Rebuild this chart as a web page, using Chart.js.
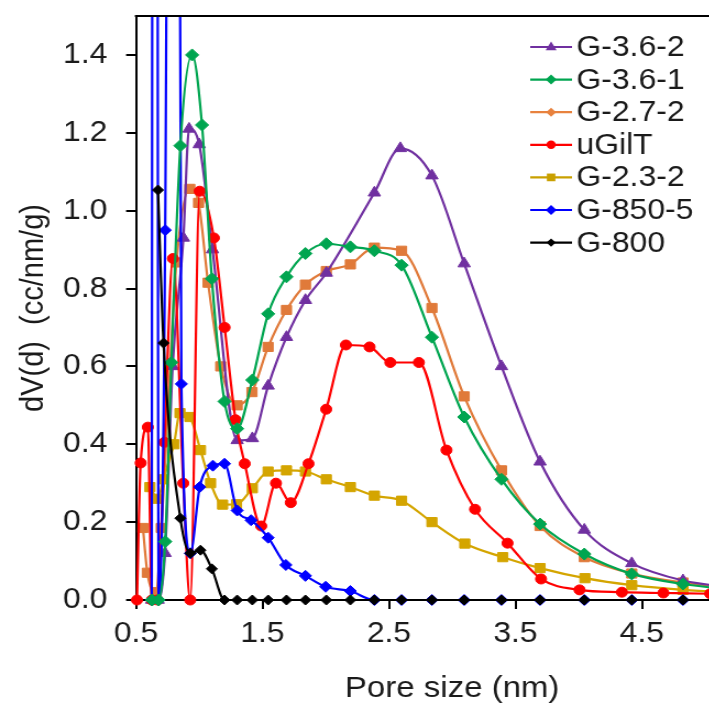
<!DOCTYPE html>
<html><head><meta charset="utf-8">
<script src="https://cdn.jsdelivr.net/npm/chart.js@4.4.1/dist/chart.umd.min.js"></script>
<style>
html,body{margin:0;padding:0;background:#fff;overflow:hidden;width:709px;height:707px;}
#wrap{position:absolute;left:0;top:0;width:706px;height:707px;transform:scaleX(1.1);transform-origin:0 0;}
canvas{display:block;}
</style></head><body>
<div id="wrap"><canvas id="c" width="706" height="707" style="width:706px;height:707px"></canvas></div>
<script>
// ---- tick labels ----
const xTickValues = [0.5, 1.5, 2.5, 3.5, 4.5];
const yTickValues = [0, 0.2, 0.4, 0.6, 0.8, 1.0, 1.2, 1.4];

// ---- series (pore size nm, dV(d) cc/nm/g) ----
const g362X = [0.625,0.675,0.73,0.79,0.875,0.92,1.00,1.105,1.30,1.42,1.545,1.69,1.84,2.005,2.385,2.59,2.84,3.095,3.39,3.695,4.045,4.42,4.825,5.27];
const g362Y = [0,0,0.12,0.60,0.93,1.21,1.17,0.90,0.41,0.415,0.55,0.675,0.77,0.84,1.046,1.16,1.09,0.864,0.60,0.355,0.18,0.094,0.05,0.03];

const g361X = [0.627,0.679,0.731,0.78,0.851,0.944,1.022,1.10,1.20,1.30,1.42,1.545,1.69,1.84,2.005,2.195,2.385,2.60,2.84,3.095,3.39,3.695,4.045,4.42,4.825,5.27];
const g361Y = [0,0,0.15,0.61,1.167,1.40,1.22,0.825,0.51,0.44,0.565,0.735,0.83,0.89,0.915,0.907,0.897,0.86,0.675,0.47,0.31,0.195,0.118,0.067,0.041,0.025];

const g272X = [0.555,0.59,0.656,0.70,0.82,0.926,0.995,1.07,1.17,1.30,1.417,1.545,1.69,1.84,2.005,2.195,2.385,2.60,2.84,3.095,3.39,3.695,4.045,4.42,4.825,5.27];
const g272Y = [0.185,0.07,0.02,0.185,0.867,1.056,1.02,0.815,0.60,0.50,0.534,0.65,0.745,0.81,0.845,0.862,0.905,0.897,0.75,0.523,0.333,0.19,0.11,0.068,0.045,0.03];

const ugiltX = [0.508,0.537,0.594,0.625,0.671,0.725,0.792,0.874,0.929,1.004,1.116,1.201,1.287,1.36,1.49,1.607,1.724,1.864,2.004,2.16,2.347,2.511,2.737,2.955,3.181,3.438,3.703,4.007,4.342,4.67,5.04,5.44];
const ugiltY = [0,0.352,0.444,0,0,0.405,0.877,0.30,0,1.05,0.93,0.70,0.463,0.35,0.19,0.30,0.25,0.35,0.49,0.655,0.65,0.61,0.61,0.385,0.233,0.146,0.054,0.026,0.02,0.018,0.016,0.015];

const g232X = [0.61,0.675,0.715,0.80,0.848,0.926,1.01,1.09,1.185,1.295,1.42,1.545,1.69,1.84,2.005,2.195,2.385,2.60,2.84,3.10,3.40,3.695,4.05,4.42,4.825,5.27];
const g232Y = [0.29,0.26,0.31,0.40,0.48,0.47,0.385,0.30,0.245,0.246,0.287,0.33,0.333,0.33,0.31,0.29,0.268,0.255,0.20,0.145,0.11,0.082,0.056,0.038,0.026,0.018];

const g8505X = [0.625,0.65,0.679,0.731,0.80,0.859,0.93,1.004,1.108,1.20,1.30,1.41,1.545,1.685,1.84,2.0,2.195,2.385,2.60,2.84,3.095,3.39,3.695,4.045,4.42,4.825,5.27];
const g8505Y = [0,10,0,0.95,6,0.555,0.12,0.29,0.345,0.35,0.23,0.205,0.16,0.09,0.062,0.034,0.023,0,0,0,0,0,0,0,0,0,0];

const g800X = [0.674,0.718,0.851,0.93,1.01,1.10,1.20,1.30,1.42,1.545,1.69,1.84,2.005,2.195,2.385,2.60,2.84,3.095,3.39,3.695,4.045,4.42,4.825,5.27];
const g800Y = [1.053,0.66,0.21,0.12,0.128,0.08,0,0,0,0,0,0,0,0,0,0,0,0,0,0,0,0,0,0];

const FONT = "'Liberation Sans', Arial, sans-serif";
const TEXT = '#1a1a1a';
const pts = (xs, ys) => xs.map((x, i) => ({x: x, y: ys[i]}));

// legend order (top to bottom) and its marker styles
const legendItems = [
  {label:'G-3.6-2', color:'#7030A0', marker:'triangle', r:5.5},
  {label:'G-3.6-1', color:'#00A550', marker:'rectRot', r:5},
  {label:'G-2.7-2', color:'#E8823E', marker:'rectRot', r:4.5},
  {label:'uGilT',   color:'#FF0000', marker:'circle', r:4.2},
  {label:'G-2.3-2', color:'#C9A000', marker:'rect', r:5.5},
  {label:'G-850-5', color:'#0000FF', marker:'rectRot', r:5},
  {label:'G-800',   color:'#000000', marker:'rectRot', r:4.2}
];

function ds(label, xs, ys, color, style, radius){
  return {
    label: label, data: pts(xs, ys),
    borderColor: color, backgroundColor: color,
    borderWidth: 2.2, pointStyle: style, pointRadius: radius,
    pointBorderWidth: 1, pointBorderColor: color, pointBackgroundColor: color,
    cubicInterpolationMode: 'monotone', fill: false,
    clip: {left: 10, top: 0, right: 10, bottom: 10}
  };
}

// index 0 is drawn on top
const datasets = [
  ds('G-800',   g800X,  g800Y,  '#000000', 'rectRot', 5),
  ds('G-3.6-1', g361X,  g361Y,  '#00A550', 'rectRot', 6),
  ds('G-850-5', g8505X, g8505Y, '#0000FF', 'rectRot', 5.5),
  ds('uGilT',   ugiltX, ugiltY, '#FF0000', 'circle', 5),
  ds('G-2.3-2', g232X,  g232Y,  '#D4A500', 'rect', 6.5),
  ds('G-3.6-2', g362X,  g362Y,  '#7030A0', 'triangle', 6.5),
  ds('G-2.7-2', g272X,  g272Y,  '#E07A3A', 'rect', 6.5)
];

function drawMarker(ctx, style, x, y, r, color){
  ctx.fillStyle = color;
  ctx.beginPath();
  if (style === 'triangle') {
    ctx.moveTo(x, y - r); ctx.lineTo(x + r * 0.9, y + r * 0.6); ctx.lineTo(x - r * 0.9, y + r * 0.6); ctx.closePath();
  } else if (style === 'rectRot') {
    ctx.moveTo(x, y - r); ctx.lineTo(x + r, y); ctx.lineTo(x, y + r); ctx.lineTo(x - r, y); ctx.closePath();
  } else if (style === 'rect') {
    ctx.rect(x - r * 0.7, y - r * 0.7, r * 1.4, r * 1.4);
  } else {
    ctx.arc(x, y, r, 0, Math.PI * 2);
  }
  ctx.fill();
}

const framePlugin = {
  id: 'frameAndLegend',
  afterDraw(chart){
    const ctx = chart.ctx, a = chart.chartArea;
    ctx.save();
    ctx.strokeStyle = '#000'; ctx.lineWidth = 2;
    ctx.beginPath(); ctx.moveTo(a.left - 1, a.top); ctx.lineTo(a.right, a.top); ctx.stroke();
    // legend
    const lx0 = 482, lx1 = 520, tx = 524, y0 = 47, dy = 32.6;
    legendItems.forEach((it, i) => {
      const y = y0 + i * dy;
      ctx.strokeStyle = it.color; ctx.lineWidth = 2.2;
      ctx.beginPath(); ctx.moveTo(lx0, y); ctx.lineTo(lx1, y); ctx.stroke();
      drawMarker(ctx, it.marker, (lx0 + lx1) / 2, y, it.r, it.color);
      ctx.fillStyle = TEXT;
      ctx.font = '29px ' + FONT;
      ctx.textBaseline = 'middle';
      ctx.textAlign = 'left';
      ctx.fillText(it.label, tx, y + 1);
    });
    ctx.restore();
  }
};

new Chart(document.getElementById('c'), {
  type: 'line',
  data: { datasets: datasets },
  options: {
    responsive: false, animation: false,
    layout: { padding: { top: 16, left: 0, right: 0, bottom: 0 } },
    plugins: { legend: { display: false }, tooltip: { enabled: false } },
    scales: {
      x: {
        type: 'linear', min: 0.5, max: 5.5,
        afterBuildTicks: s => { s.ticks = xTickValues.map(v => ({value: v})); },
        afterFit: s => { s.height = 107; s.paddingLeft = 0; s.paddingRight = 0; },
        ticks: { callback: v => Number(v).toFixed(1), font: {family: FONT, size: 29}, color: TEXT, padding: 8, maxRotation: 0 },
        grid: { drawOnChartArea: false, drawTicks: true, tickLength: 9, color: '#000', lineWidth: 2 },
        border: { display: true, color: '#000', width: 2 },
        title: { display: true, text: 'Pore size (nm)', font: {family: FONT, size: 30}, color: TEXT, padding: {top: 0, bottom: 0} }
      },
      y: {
        type: 'linear', min: 0, max: 1.5,
        afterBuildTicks: s => { s.ticks = yTickValues.map(v => ({value: v})); },
        afterFit: s => { s.width = 123.6; s.paddingTop = 0; s.paddingBottom = 0; },
        ticks: { callback: v => Number(v).toFixed(1), font: {family: FONT, size: 29}, color: TEXT, padding: 17 },
        grid: { drawOnChartArea: false, drawTicks: true, tickLength: 9, color: '#000', lineWidth: 2 },
        border: { display: true, color: '#000', width: 2 },
        title: { display: true, text: 'dV(d)  (cc/nm/g)', font: {family: FONT, size: 29}, color: TEXT, padding: {top: 14, bottom: 0} }
      }
    }
  },
  plugins: [framePlugin]
});
</script>
</body></html>
